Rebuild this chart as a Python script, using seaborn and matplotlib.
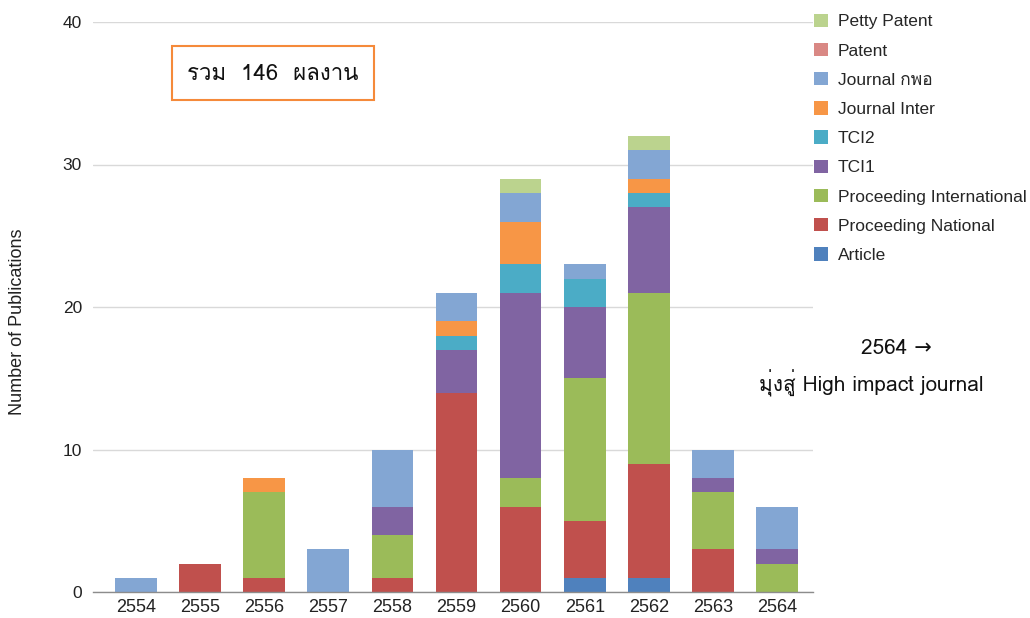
import numpy as np
import matplotlib
matplotlib.use("Agg")
import matplotlib.pyplot as plt
import seaborn as sns
from matplotlib import font_manager
from matplotlib.ft2font import FT2Font
from matplotlib.patches import Patch, Rectangle

# data
years = ["2554", "2555", "2556", "2557", "2558", "2559", "2560", "2561", "2562", "2563", "2564"]
article = [0, 0, 0, 0, 0, 0, 0, 1, 1, 0, 0]
proc_national = [0, 2, 1, 0, 1, 14, 6, 4, 8, 3, 0]
proc_inter = [0, 0, 6, 0, 3, 0, 2, 10, 12, 4, 2]
tci1 = [0, 0, 0, 0, 2, 3, 13, 5, 6, 1, 1]
tci2 = [0, 0, 0, 0, 0, 1, 2, 2, 1, 0, 0]
journal_inter = [0, 0, 1, 0, 0, 1, 3, 0, 1, 0, 0]
journal_thai = [1, 0, 0, 3, 4, 2, 2, 1, 2, 2, 3]
patent = [0, 0, 0, 0, 0, 0, 0, 0, 0, 0, 0]
petty_patent = [0, 0, 0, 0, 0, 0, 1, 0, 1, 0, 0]

series_names = ["Article", "Proceeding National", "Proceeding International", "TCI1", "TCI2",
                "Journal Inter", "Journal กพอ", "Patent", "Petty Patent"]
series_vals = [article, proc_national, proc_inter, tci1, tci2,
               journal_inter, journal_thai, patent, petty_patent]
colors = ["#4F81BD", "#C0504D", "#9BBB59", "#8064A2", "#4BACC6",
          "#F79646", "#83A6D3", "#D98884", "#BBD38E"]


def find_thai_font():
    # pick any installed family that has Thai glyphs
    for f in font_manager.fontManager.ttflist:
        try:
            cmap = FT2Font(f.fname).get_charmap()
        except Exception:
            continue
        if ord("ร") in cmap and ord("ม") in cmap:
            return f.name
    return None


sns.set_theme(style="white")
thai = find_thai_font()
thai_l = [thai] if thai else []
latin_first = ["Liberation Sans"] + thai_l + ["DejaVu Sans"]
thai_first = thai_l + ["DejaVu Sans"]
plt.rcParams["font.family"] = latin_first

fig = plt.figure(figsize=(10.3, 6.18), dpi=100)
ax = fig.add_axes([93 / 1030, 26 / 618, 720 / 1030, 570 / 618])

bottom = np.zeros(len(years))
for name, vals, c in zip(series_names, series_vals, colors):
    sns.barplot(x=years, y=vals, bottom=bottom, color=c, width=0.65,
                linewidth=0, saturation=1, ax=ax)
    bottom = bottom + np.array(vals)

ax.set_xlim(-0.67, 10.56)
ax.set_ylim(0, 40)
ax.set_yticks([0, 10, 20, 30, 40])
ax.yaxis.grid(True, color="#d9d9d9", linewidth=1)
ax.set_axisbelow(True)
for s in ["top", "right", "left"]:
    ax.spines[s].set_visible(False)
ax.spines["bottom"].set_color("#8c8c8c")
ax.spines["bottom"].set_linewidth(1)
ax.tick_params(axis="both", length=0, colors="#222222")
ax.tick_params(axis="y", labelsize=12.5, pad=8)
ax.tick_params(axis="x", labelsize=13, pad=5)
ax.set_xlabel("")
ax.set_ylabel("")
fig.text(18 / 1030, 1 - 322 / 618, "Number of Publications", rotation=90,
         ha="center", va="center", fontsize=13, color="#222222")

# legend, top entry is the last series
handles = [Patch(facecolor=c, edgecolor="none") for c in colors][::-1]
fig.legend(handles, series_names[::-1], loc="upper left",
           bbox_to_anchor=(798 / 1030, 1 + 2 / 618), frameon=False,
           handlelength=0.8, handleheight=0.8, handletextpad=0.6,
           labelspacing=0.78, prop={"family": latin_first, "size": 12.5})

# total box
fig.patches.append(Rectangle((172 / 1030, 1 - 100 / 618), 202 / 1030, 54 / 618,
                             transform=fig.transFigure, fill=False,
                             edgecolor="#F58A3A", linewidth=1.5))
fig.text(273 / 1030, 1 - 75 / 618, "รวม  146  ผลงาน", ha="center", va="center",
         fontsize=16, family=thai_first, color="#111111")

fig.text(896 / 1030, 1 - 349 / 618, "2564 →", ha="center", va="center",
         fontsize=15, family=thai_first, color="#111111")
fig.text(871 / 1030, 1 - 383 / 618, "มุ่งสู่ High impact journal", ha="center", va="center",
         fontsize=15, family=thai_first, color="#111111")

fig.savefig("out.png", dpi=100)
